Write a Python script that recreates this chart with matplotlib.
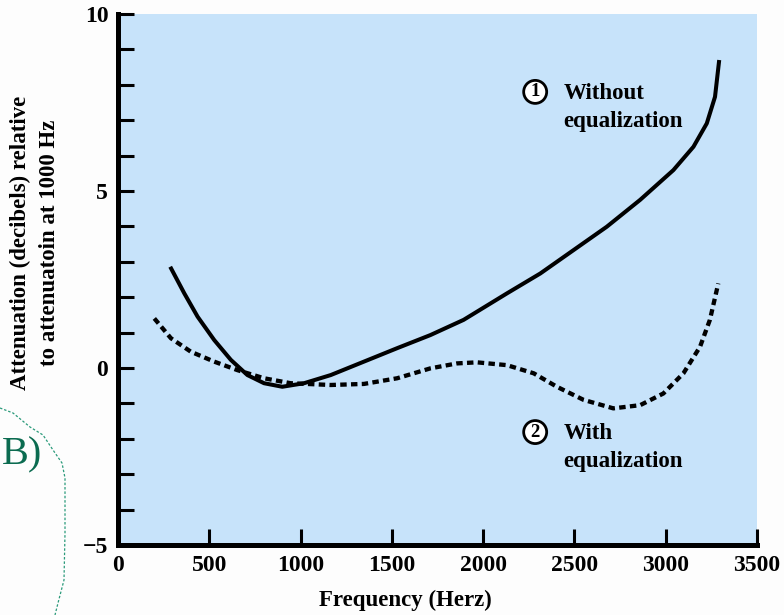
import matplotlib.pyplot as plt
from matplotlib.ticker import MultipleLocator

# values
freq_no_eq = [286, 363, 436, 527, 618, 709, 800, 900, 1019, 1165, 1347, 1529,
              1711, 1893, 2131, 2313, 2495, 2677, 2860, 3042, 3152, 3225, 3270, 3293]
atten_no_eq = [2.86, 2.11, 1.45, 0.79, 0.23, -0.20, -0.43, -0.53, -0.43, -0.20, 0.18, 0.56,
               0.93, 1.36, 2.11, 2.67, 3.33, 3.99, 4.75, 5.59, 6.25, 6.91, 7.66, 8.70]

freq_eq = [199, 290, 399, 527, 654, 800, 946, 1165, 1347, 1529, 1711, 1857,
           1966, 2131, 2277, 2404, 2550, 2713, 2860, 2987, 3097, 3188, 3242, 3288]
atten_eq = [1.40, 0.84, 0.46, 0.18, -0.06, -0.29, -0.43, -0.48, -0.45, -0.29, -0.01, 0.13,
            0.16, 0.08, -0.15, -0.53, -0.90, -1.14, -1.05, -0.72, -0.15, 0.60, 1.36, 2.39]

x_ticks = [0, 500, 1000, 1500, 2000, 2500, 3000, 3500]
y_ticks = [-5, 0, 5, 10]

# green slide decoration on the left (figure pixels)
deco_x = [0, 13, 30, 43, 53, 62, 65, 65, 64, 58, 55]
deco_y = [408, 413, 427, 435, 450, 463, 478, 533, 580, 603, 615]

W, H = 784, 615
plt.rcParams['font.family'] = ['Liberation Serif', 'DejaVu Serif']
plt.rcParams['font.weight'] = 'bold'

fig = plt.figure(figsize=(W / 100, H / 100), dpi=100)
fig.patch.set_facecolor('#fdfdfd')
ax = fig.add_axes([118 / W, 1 - 545 / H, (757 - 118) / W, (545 - 14) / H])
ax.set_facecolor('#c7e3fa')

ax.plot(freq_no_eq, atten_no_eq, color='black', lw=2.9, solid_capstyle='butt',
        solid_joinstyle='round')
ax.plot(freq_eq, atten_eq, color='black', lw=3.1, linestyle=(0, (1.5, 1.0)),
        dash_capstyle='butt')

ax.set_xlim(0, 3500)
ax.set_ylim(-5, 10)
ax.set_xticks(x_ticks)
ax.set_yticks(y_ticks)
ax.yaxis.set_minor_locator(MultipleLocator(1))

for s in ['top', 'right']:
    ax.spines[s].set_visible(False)
for s in ['left', 'bottom']:
    ax.spines[s].set_linewidth(3.6)
    ax.spines[s].set_capstyle('projecting')

ax.tick_params(axis='both', which='both', direction='in', length=11.5, width=2.2,
               labelsize=17)
ax.tick_params(axis='y', pad=7)
ax.tick_params(axis='x', pad=7)
for lab in ax.get_xticklabels() + ax.get_yticklabels():
    lab.set_fontweight('bold')

# axis titles placed as in the picture
fig.text(405 / W, 1 - 600 / H, 'Frequency (Herz)', ha='center', va='center',
         fontsize=16.5, fontweight='bold')
fig.text(35 / W, 1 - 243 / H, 'Attenuation (decibels) relative\nto attenuatoin at 1000 Hz',
         ha='center', va='center', rotation=90, fontsize=16.5, fontweight='bold',
         linespacing=1.45, multialignment='center')

# curve labels
circ = dict(boxstyle='circle,pad=0.16', fc='white', ec='black', lw=2.0)
ax.text(2285, 7.8, '1', ha='center', va='center', fontsize=13.5, fontweight='bold', bbox=circ)
ax.text(2439, 7.6, 'Without', ha='left', va='baseline', fontsize=16.5, fontweight='bold')
ax.text(2439, 6.8, 'equalization', ha='left', va='baseline', fontsize=16.5, fontweight='bold')
ax.text(2285, -1.81, '2', ha='center', va='center', fontsize=13.5, fontweight='bold', bbox=circ)
ax.text(2439, -2.0, 'With', ha='left', va='baseline', fontsize=16.5, fontweight='bold')
ax.text(2439, -2.8, 'equalization', ha='left', va='baseline', fontsize=16.5, fontweight='bold')

# slide decoration
fig.add_artist(plt.Line2D([x / W for x in deco_x], [1 - y / H for y in deco_y],
                          color='#2a9a7a', lw=0.9, linestyle=(0, (2, 1.5))))
fig.text(42 / W, 1 - 455 / H, 'B)', ha='right', va='center', fontsize=29,
         fontweight='normal', color='#0b6b50')

fig.savefig('out.png', dpi=100, facecolor=fig.get_facecolor())
